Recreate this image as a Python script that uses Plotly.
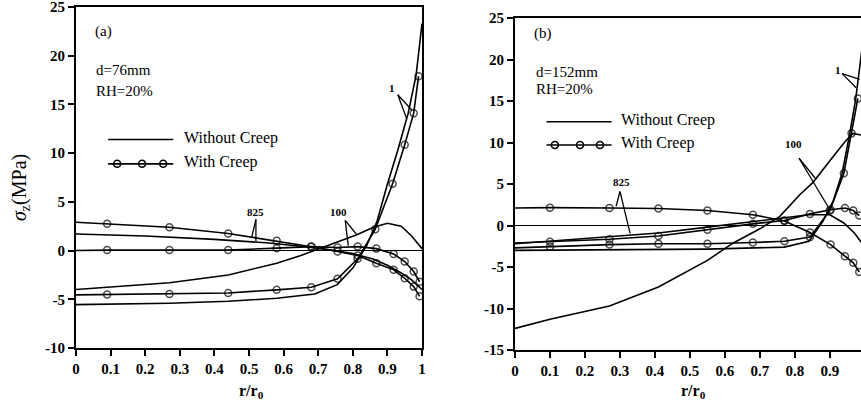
import plotly.graph_objects as go

# ---------------- data : panel (a) d=76mm ----------------
a_1_nc_x = [0, 0.27, 0.44, 0.58, 0.69, 0.755, 0.80, 0.84, 0.87, 0.90, 0.93, 0.96, 0.983, 1.0]
a_1_nc_y = [-5.55, -5.4, -5.2, -4.9, -4.45, -3.5, -1.8, 0.5, 3.0, 6.8, 10.3, 14.1, 18.0, 23.3]
a_1_c_x = [0, 0.09, 0.27, 0.44, 0.58, 0.68, 0.756, 0.814, 0.865, 0.915, 0.95, 0.976, 0.99]
a_1_c_y = [-4.55, -4.5, -4.45, -4.35, -4.03, -3.76, -2.9, -0.85, 2.2, 6.85, 10.85, 14.1, 17.9]
a_100_nc_x = [0, 0.27, 0.44, 0.58, 0.65, 0.70, 0.76, 0.81, 0.86, 0.90, 0.94, 0.97, 1.0]
a_100_nc_y = [-4.0, -3.3, -2.5, -1.3, -0.5, 0.15, 0.9, 1.6, 2.4, 2.8, 2.5, 1.5, 0.2]
a_100_c_x = [0, 0.09, 0.27, 0.44, 0.58, 0.68, 0.756, 0.814, 0.868, 0.918, 0.95, 0.976, 0.993]
a_100_c_y = [0.0, 0.05, 0.05, 0.05, 0.25, 0.41, 0.31, 0.41, 0.2, -0.34, -1.13, -2.15, -3.2]
a_825_nc_x = [0, 0.2, 0.4, 0.55, 0.65, 0.72, 0.80, 0.86, 0.90, 0.94, 0.97, 1.0]
a_825_nc_y = [1.7, 1.5, 1.15, 0.8, 0.45, 0.15, -0.3, -0.9, -1.5, -2.3, -3.0, -4.0]
a_825_c_x = [0, 0.09, 0.27, 0.44, 0.58, 0.68, 0.756, 0.814, 0.868, 0.918, 0.95, 0.976, 0.993]
a_825_c_y = [2.9, 2.75, 2.4, 1.75, 1.0, 0.4, -0.1, -0.5, -1.3, -1.98, -2.84, -3.7, -4.7]

# ---------------- data : panel (b) d=152mm ----------------
b_1_nc_x = [0, 0.27, 0.55, 0.77, 0.84, 0.88, 0.91, 0.935, 0.957, 0.974, 0.99, 1.0]
b_1_nc_y = [-3.0, -2.95, -2.85, -2.6, -1.9, 0.5, 3.0, 6.3, 11.1, 15.3, 21.0, 24.0]
b_1_c_x = [0, 0.1, 0.27, 0.41, 0.55, 0.68, 0.77, 0.843, 0.90, 0.94, 0.962, 0.98]
b_1_c_y = [-2.7, -2.55, -2.3, -2.2, -2.2, -2.05, -1.9, -1.4, 1.8, 6.3, 11.1, 15.3]
b_100_nc_x = [0, 0.1, 0.27, 0.41, 0.55, 0.624, 0.70, 0.757, 0.814, 0.852, 0.90, 0.943, 0.966, 1.0]
b_100_nc_y = [-12.4, -11.3, -9.7, -7.4, -4.2, -2.1, -0.4, 1.1, 3.7, 5.2, 7.8, 10.1, 11.1, 10.8]
b_100_c_x = [0, 0.1, 0.27, 0.41, 0.55, 0.68, 0.77, 0.843, 0.902, 0.943, 0.967, 0.984]
b_100_c_y = [-2.1, -1.95, -1.66, -1.26, -0.5, 0.2, 0.6, 1.4, 1.9, 2.1, 1.8, 1.2]
b_825_nc_x = [0, 0.1, 0.27, 0.41, 0.55, 0.68, 0.77, 0.84, 0.90, 0.94, 0.97, 0.986, 1.0]
b_825_nc_y = [-2.2, -1.9, -1.4, -0.9, -0.2, 0.5, 1.0, 1.3, 1.3, 0.3, -0.9, -1.9, -2.6]
b_825_c_x = [0, 0.1, 0.27, 0.41, 0.55, 0.68, 0.77, 0.843, 0.902, 0.943, 0.967, 0.984]
b_825_c_y = [2.1, 2.15, 2.1, 2.05, 1.8, 1.3, 0.55, -0.85, -2.3, -3.7, -4.5, -5.6]

# ---------------- ticks ----------------
x_ticks = [0, 0.1, 0.2, 0.3, 0.4, 0.5, 0.6, 0.7, 0.8, 0.9, 1.0]
x_tick_labels = ["0", "0.1", "0.2", "0.3", "0.4", "0.5", "0.6", "0.7", "0.8", "0.9", "1"]
a_y_ticks = [-10, -5, 0, 5, 10, 15, 20, 25]
a_y_tick_labels = ["-10", "-5", "0", "5", "10", "15", "20", "25"]
b_y_ticks = [-15, -10, -5, 0, 5, 10, 15, 20, 25]
b_y_tick_labels = ["-15", "-10", "-5", "0", "5", "10", "15", "20", "25"]

SERIF = "Liberation Serif"
W, H = 861, 403

fig = go.Figure()

def add_plain(x, y, xa, ya):
    fig.add_trace(go.Scatter(x=x, y=y, mode="lines", xaxis=xa, yaxis=ya,
                             line=dict(color="black", width=1.6), showlegend=False,
                             hoverinfo="skip"))

def add_circ(x, y, xa, ya):
    sizes = [0] + [7] * (len(x) - 1)
    fig.add_trace(go.Scatter(x=x, y=y, mode="lines+markers", xaxis=xa, yaxis=ya,
                             line=dict(color="black", width=1.6),
                             marker=dict(symbol="circle-open", size=sizes, color="black",
                                         line=dict(width=1.5)),
                             showlegend=False, hoverinfo="skip"))

add_plain(a_1_nc_x, a_1_nc_y, "x", "y")
add_plain(a_100_nc_x, a_100_nc_y, "x", "y")
add_plain(a_825_nc_x, a_825_nc_y, "x", "y")
add_circ(a_1_c_x, a_1_c_y, "x", "y")
add_circ(a_100_c_x, a_100_c_y, "x", "y")
add_circ(a_825_c_x, a_825_c_y, "x", "y")

add_plain(b_1_nc_x, b_1_nc_y, "x2", "y2")
add_plain(b_100_nc_x, b_100_nc_y, "x2", "y2")
add_plain(b_825_nc_x, b_825_nc_y, "x2", "y2")
add_circ(b_1_c_x, b_1_c_y, "x2", "y2")
add_circ(b_100_c_x, b_100_c_y, "x2", "y2")
add_circ(b_825_c_x, b_825_c_y, "x2", "y2")

def bold(lst):
    return ["<b>%s</b>" % s for s in lst]

tickfont = dict(family=SERIF, size=15, color="black")
axis_common = dict(showline=True, linecolor="black", linewidth=1.8, ticks="outside",
                   ticklen=6, tickwidth=1.5, tickcolor="black", showgrid=False,
                   tickfont=tickfont, automargin=False, ticklabeloverflow="allow")

fig.update_layout(
    width=W, height=H, autosize=False,
    margin=dict(l=0, r=0, t=0, b=0, pad=0),
    paper_bgcolor="white", plot_bgcolor="white",
    xaxis=dict(domain=[76 / W, 422 / W], range=[0, 1], tickvals=x_ticks,
               ticktext=bold(x_tick_labels), mirror=True, zeroline=False, anchor="y",
               **axis_common),
    yaxis=dict(domain=[1 - 348 / H, 1 - 7 / H], range=[-10, 25], tickvals=a_y_ticks,
               ticktext=bold(a_y_tick_labels), mirror=True, zeroline=True,
               zerolinecolor="black", zerolinewidth=1.2, anchor="x", **axis_common),
    xaxis2=dict(domain=[515 / W, 1.0], range=[0, 0.989], tickvals=x_ticks,
                ticktext=bold(x_tick_labels), mirror=True, zeroline=False, anchor="y2",
                **axis_common),
    yaxis2=dict(domain=[1 - 350 / H, 1 - 18 / H], range=[-15, 25], tickvals=b_y_ticks,
                ticktext=bold(b_y_tick_labels), mirror=False, zeroline=True,
                zerolinecolor="black", zerolinewidth=1.2, anchor="x2", **axis_common),
)

ann = []
shapes = []

def txt(x, y, s, xr, yr, size=15, bold_=False, xanchor="left"):
    ann.append(dict(x=x, y=y, xref=xr, yref=yr, text=("<b>%s</b>" % s) if bold_ else s,
                    showarrow=False, xanchor=xanchor, yanchor="middle",
                    font=dict(family=SERIF, size=size, color="black")))

def seg(x0, y0, x1, y1, xr, yr, w=1.3):
    shapes.append(dict(type="line", x0=x0, y0=y0, x1=x1, y1=y1, xref=xr, yref=yr,
                       line=dict(color="black", width=w)))

def circ(x, y, xr, yr):
    shapes.append(dict(type="circle", xref=xr, yref=yr, xsizemode="pixel", ysizemode="pixel",
                       xanchor=x, yanchor=y, x0=-3.5, x1=3.5, y0=-3.5, y1=3.5,
                       line=dict(color="black", width=1.5)))

# panel (a) texts
txt(0.048, 22.5, "(a)", "x", "y", 15)
txt(0.052, 18.5, "d=76mm", "x", "y", 15)
txt(0.052, 16.4, "RH=20%", "x", "y", 15)
seg(0.093, 11.4, 0.281, 11.4, "x", "y", 1.6)
txt(0.305, 11.6, "Without Creep", "x", "y", 16)
seg(0.093, 8.9, 0.281, 8.9, "x", "y", 1.6)
for cx in [0.119, 0.191, 0.252]:
    circ(cx, 8.9, "x", "y")
txt(0.305, 9.1, "With Creep", "x", "y", 16)
txt(0.913, 16.7, "1", "x", "y", 11, True, "center")
seg(0.93, 16.0, 0.971, 14.4, "x", "y")
seg(0.93, 16.0, 0.955, 13.6, "x", "y")
txt(0.52, 4.0, "825", "x", "y", 11, True, "center")
seg(0.52, 3.2, 0.508, 1.4, "x", "y")
seg(0.52, 3.2, 0.52, 0.95, "x", "y")
txt(0.759, 4.0, "100", "x", "y", 11, True, "center")
seg(0.778, 3.1, 0.81, 1.7, "x", "y")
seg(0.778, 3.1, 0.787, 0.5, "x", "y")

# panel (b) texts
txt(0.05, 23.1, "(b)", "x2", "y2", 15)
txt(0.054, 18.5, "d=152mm", "x2", "y2", 15)
txt(0.054, 16.5, "RH=20%", "x2", "y2", 15)
seg(0.09, 12.5, 0.276, 12.5, "x2", "y2", 1.6)
txt(0.298, 12.7, "Without Creep", "x2", "y2", 16)
seg(0.09, 9.7, 0.276, 9.7, "x2", "y2", 1.6)
for cx in [0.114, 0.186, 0.243]:
    circ(cx, 9.7, "x2", "y2")
txt(0.298, 9.9, "With Creep", "x2", "y2", 16)
txt(0.924, 18.7, "1", "x2", "y2", 11, True, "center")
seg(0.935, 18.3, 0.985, 17.6, "x2", "y2")
seg(0.935, 18.3, 0.975, 16.6, "x2", "y2")
txt(0.305, 5.3, "825", "x2", "y2", 11, True, "center")
seg(0.30, 4.1, 0.289, 2.3, "x2", "y2")
seg(0.30, 4.1, 0.329, -0.95, "x2", "y2")
txt(0.795, 9.8, "100", "x2", "y2", 11, True, "center")
seg(0.812, 8.1, 0.86, 5.6, "x2", "y2")
seg(0.812, 8.1, 0.90, 1.9, "x2", "y2")

# axis titles
ann.append(dict(x=21 / W, y=1 - 188 / H, xref="paper", yref="paper",
                text="<i>σ</i><sub>z</sub>(MPa)", showarrow=False, textangle=-90,
                xanchor="center", yanchor="middle",
                font=dict(family=SERIF, size=20, color="black")))
for cx in [252, 693]:
    ann.append(dict(x=cx / W, y=1 - 391 / H, xref="paper", yref="paper",
                    text="<b>r/r<sub>0</sub></b>", showarrow=False, xanchor="center",
                    yanchor="middle", font=dict(family=SERIF, size=16, color="black")))

fig.update_layout(annotations=ann, shapes=shapes)
fig.write_html("out.html",
               config={"displayModeBar": False},
               post_script="document.body.style.margin='0px';"
                           "document.body.style.overflow='hidden';")
